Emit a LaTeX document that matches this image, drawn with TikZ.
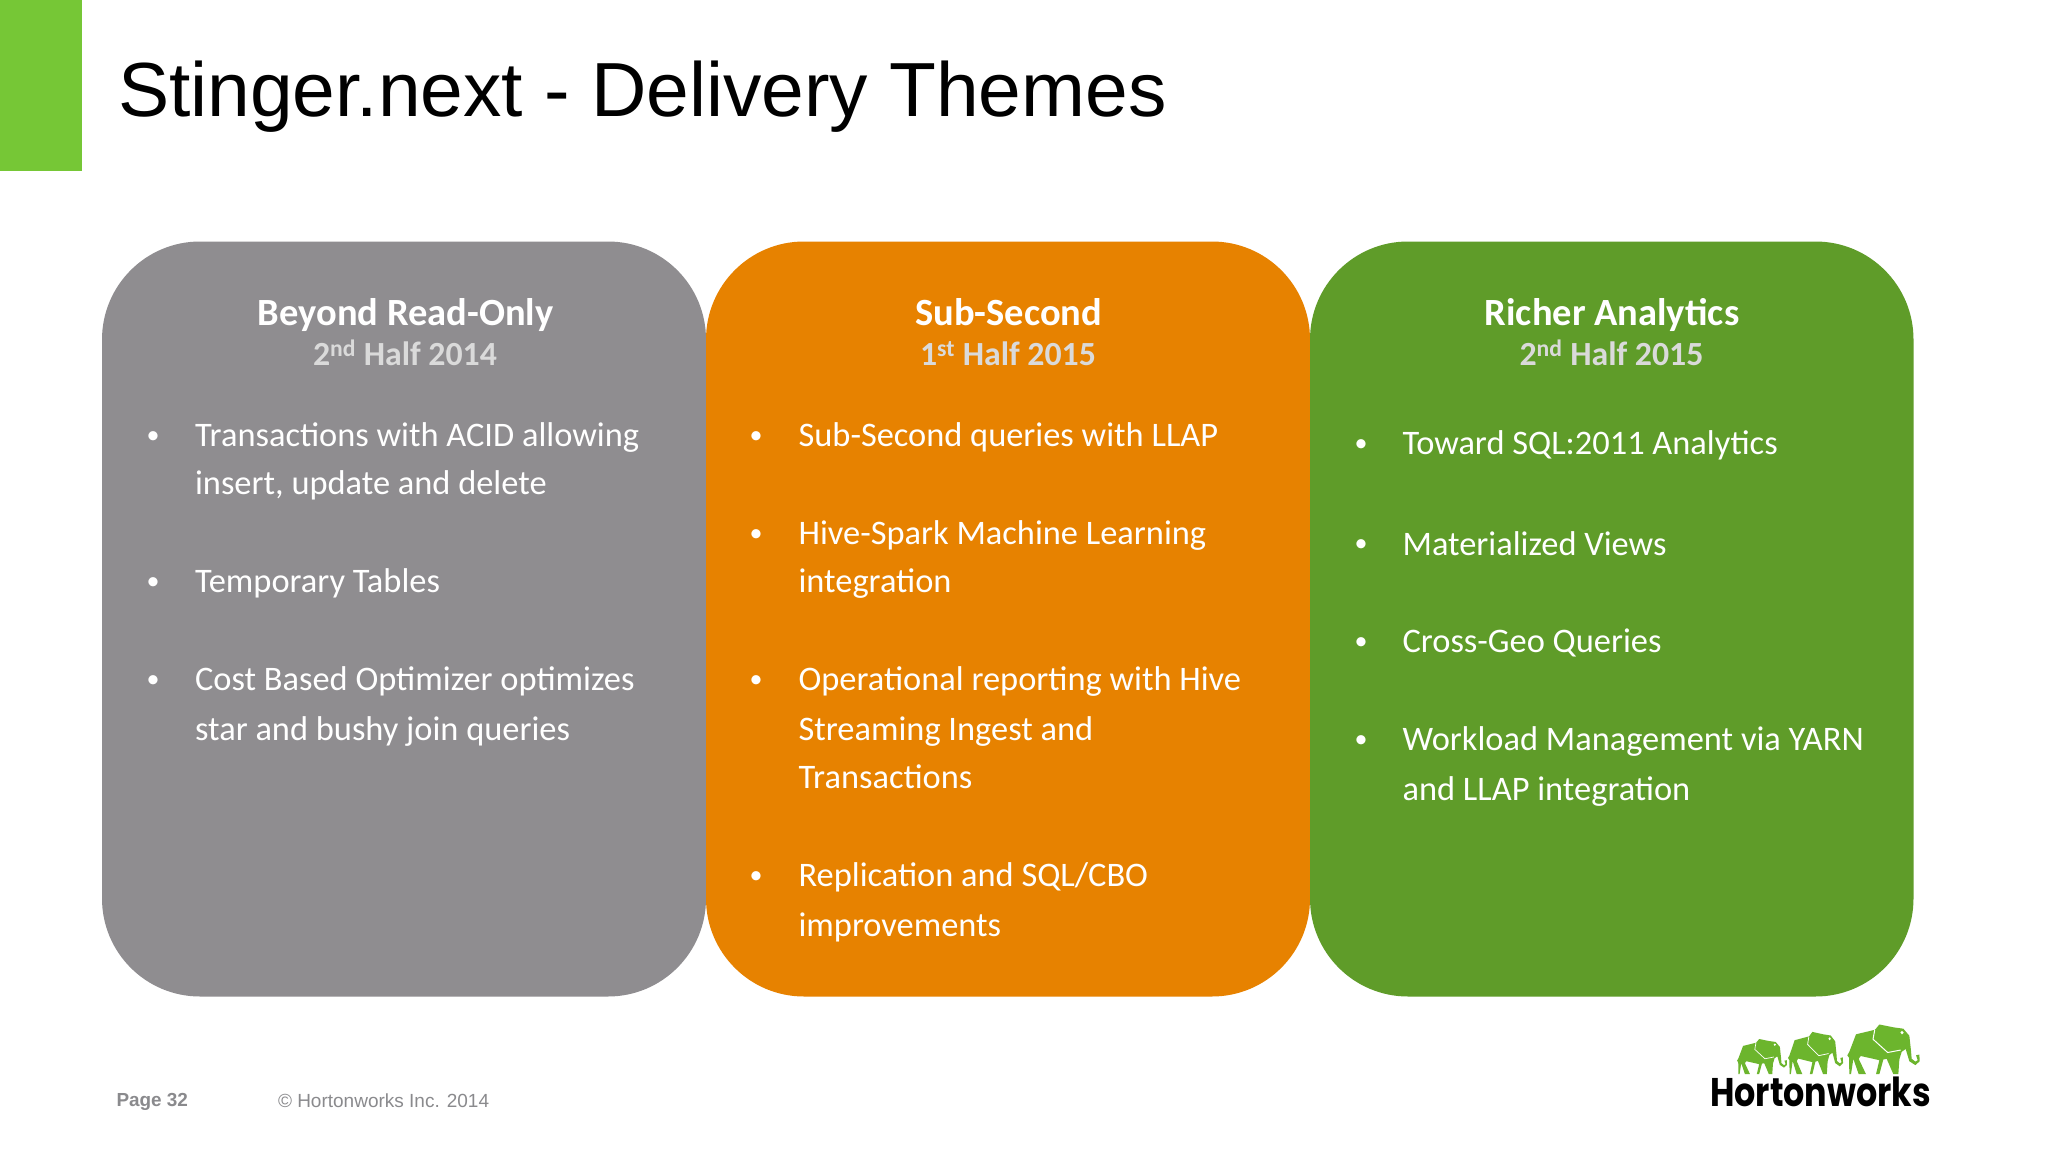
\documentclass[tikz,border=0pt]{standalone}
\usepackage{fontspec}
\usepackage{graphicx}
\setmainfont{Carlito}
\newfontfamily\arial{Liberation Sans}
\newfontfamily\logofont{Poppins}
\definecolor{topgreen}{HTML}{76C736}
\definecolor{boxgray}{HTML}{8F8D90}
\definecolor{boxorange}{HTML}{E78200}
\definecolor{boxgreen}{HTML}{5F9C29}
\definecolor{logogreen}{HTML}{6CB52D}
\definecolor{subgray}{HTML}{DADADA}
\definecolor{footgray}{HTML}{8A8A8D}
\tikzset{
  every node/.style={inner sep=0pt,outer sep=0pt},
  panel/.style={rounded corners=98pt},
  head/.style={anchor=base,text=white,yshift=-0.8pt,xshift=0.6pt,font=\fontsize{38.5}{38.5}\selectfont\bfseries},
  sub/.style={anchor=base,text=subgray,yshift=-0.8pt,font=\fontsize{33.8}{34}\selectfont\bfseries},
  body/.style={anchor=base west,text=white,yshift=-1.2pt,xshift=0.6pt,font=\fontsize{34.4}{34.4}\selectfont},
  dot/.style={anchor=base,text=white,font=\fontsize{26}{26}\selectfont},
}
% elephant drawn in 3x zoom units: x, y, xscale, yscale
\newcommand{\elephant}[4]{%
\begin{scope}[shift={(#1,#2)},x=#3*1pt/3,y=-#4*1pt/3]
\fill[logogreen] (22,118) -- (28,108) -- (48,58) -- (105,45) -- (118,30) -- (160,38) -- (190,42) -- (208,62) -- (213,105) -- (215,128) -- (226,136) -- (233,132) -- (228,118) -- (238,116) -- (239,135) -- (226,146) -- (208,135) -- (197,100) -- (185,108) -- (178,130) -- (175,172) -- (160,172) -- (140,128) -- (130,130) -- (118,172) -- (108,172) -- (118,132) -- (100,128) -- (62,120) -- (56,128) -- (78,172) -- (56,172) -- (40,128) -- (33,172) -- (28,172) -- (27,125) -- cycle;
\draw[white,line width=#3*1pt,line join=round] (104,46) -- (99,72) -- (143,110) -- (182,103);
\fill[white] (186,53) circle[radius=5];
\end{scope}}
\begin{document}
\begin{tikzpicture}[x=1pt,y=-1pt]
\useasboundingbox (0,0) rectangle (2048,1153);
\fill[white] (0,0) rectangle (2048,1153);
\fill[topgreen] (0,0) rectangle (82,171);
\node[anchor=base west,font=\arial\fontsize{76.7}{76.8}\selectfont] (title) at (118,117) {Stinger.next - Delivery Themes};
% panels
\fill[boxgray,panel] (102,241.5) rectangle (706,996.5);
\fill[boxorange,panel] (706,241.5) rectangle (1310,996.5);
\fill[boxgreen,panel] (1310,241.5) rectangle (1913.5,996.5);
% gray panel
\node[head] (h1) at (405,325) {Beyond Read-Only};
\node[sub] (s1) at (405,365) {2\textsuperscript{nd} Half 2014};
\node[dot] (b1a) at (153,443) {•};
\node[body] (t1a) at (194.5,445.4) {Transactions with ACID allowing};
\node[body] (t1b) at (194.5,493.7) {insert, update and delete};
\node[dot] (b1b) at (153,589) {•};
\node[body] (t1c) at (194.5,591.7) {Temporary Tables};
\node[dot] (b1c) at (153,687) {•};
\node[body] (t1d) at (194.5,689.6) {Cost Based Optimizer optimizes};
\node[body] (t1e) at (194.5,739.2) {star and bushy join queries};
% orange panel
\node[head] (h2) at (1008,325) {Sub-Second};
\node[sub] (s2) at (1008,365) {1\textsuperscript{st} Half 2015};
\node[dot] (b2a) at (756,443) {•};
\node[body] (t2a) at (798,445.4) {Sub-Second queries with LLAP};
\node[dot] (b2b) at (756,541) {•};
\node[body] (t2b) at (798,543.3) {Hive-Spark Machine Learning};
\node[body] (t2c) at (798,591.7) {integration};
\node[dot] (b2c) at (756,687) {•};
\node[body] (t2d) at (798,689.6) {Operational reporting with Hive};
\node[body] (t2e) at (798,739.2) {Streaming Ingest and};
\node[body] (t2f) at (798,787.6) {Transactions};
\node[dot] (b2d) at (756,883) {•};
\node[body] (t2g) at (798,885.5) {Replication and SQL/CBO};
\node[body] (t2h) at (798,935.1) {improvements};
% green panel
\node[head] (h3) at (1611.5,325) {Richer Analytics};
\node[sub] (s3) at (1611.5,365) {2\textsuperscript{nd} Half 2015};
\node[dot] (b3a) at (1361,451) {•};
\node[body] (t3a) at (1402,453.2) {Toward SQL:2011 Analytics};
\node[dot] (b3b) at (1361,551) {•};
\node[body] (t3b) at (1402,553.8) {Materialized Views};
\node[dot] (b3c) at (1361,649) {•};
\node[body] (t3c) at (1402,651.7) {Cross-Geo Queries};
\node[dot] (b3d) at (1361,747) {•};
\node[body] (t3d) at (1402,749.7) {Workload Management via YARN};
\node[body] (t3e) at (1402,799.3) {and LLAP integration};
% footer
\node[anchor=base west,text=footgray,font=\arial\bfseries\fontsize{18.9}{19}\selectfont] (page) at (116.5,1106) {Page 32};
\node[anchor=base west,text=footgray,font=\arial\fontsize{19}{19}\selectfont] (copy) at (278,1107) {© Hortonworks Inc. 2014};
% logo
\elephant{1840}{1014}{1}{1.05}
\elephant{1782.5}{1023}{0.76}{0.89}
\elephant{1732}{1031.6}{0.69}{0.74}
\node[anchor=base west,font=\logofont\bfseries\fontsize{40}{40}\selectfont] (logo) at (1710,1106) {\scalebox{0.835}[1]{Hortonworks}};
\end{tikzpicture}
\end{document}
